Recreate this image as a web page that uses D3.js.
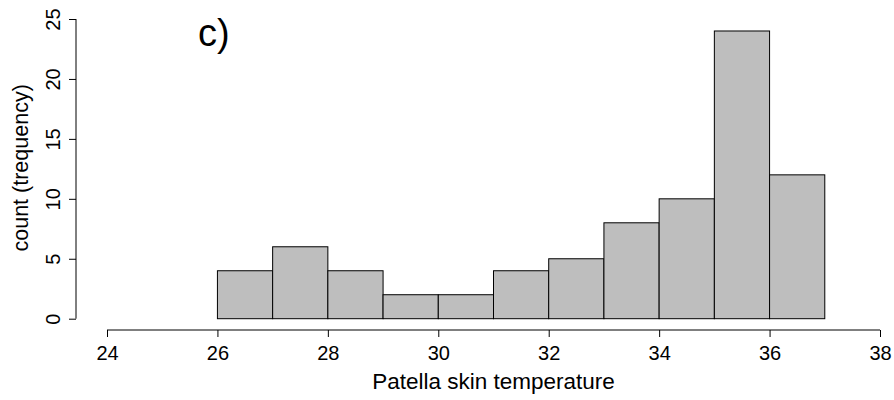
<!DOCTYPE html>
<html>
<head>
<meta charset="utf-8">
<script src="https://cdn.jsdelivr.net/npm/d3@7"></script>
<style>
  body { margin: 0; background: #fff; }
  text { font-family: "Liberation Sans", Arial, sans-serif; }
</style>
</head>
<body>
<svg id="chart"></svg>
<script>
// histogram bins (lower edge) and counts
const binStarts = [26, 27, 28, 29, 30, 31, 32, 33, 34, 35, 36];
const counts = [4, 6, 4, 2, 2, 4, 5, 8, 10, 24, 12];
const xTicks = [24, 26, 28, 30, 32, 34, 36, 38];
const yTicks = [0, 5, 10, 15, 20, 25];

const width = 894, height = 400;
const svg = d3.select('#chart').attr('width', width).attr('height', height);

const x = d3.scaleLinear().domain([24, 38]).range([107, 880]);
const y = d3.scaleLinear().domain([0, 25]).range([318.7, 19]);

const bins = binStarts.map((b, i) => ({ x0: b, x1: b + 1, n: counts[i] }));

svg.selectAll('.bar')
    .data(bins)
    .enter().append('rect')
    .attr('class', 'bar')
    .attr('x', d => x(d.x0))
    .attr('y', d => y(d.n))
    .attr('width', d => x(d.x1) - x(d.x0))
    .attr('height', d => y(0) - y(d.n))
    .attr('fill', '#bebebe')
    .attr('stroke', '#000')
    .attr('stroke-width', 1);

// x axis, R style (detached below the plot)
const xAxis = svg.append('g')
    .attr('transform', 'translate(0,330)')
    .call(d3.axisBottom(x).tickValues(xTicks).tickSize(7).tickPadding(9).tickSizeOuter(0));
xAxis.select('.domain').attr('d', `M${x(24)},0H${x(38)}`);
xAxis.selectAll('text').attr('font-size', 20).attr('fill', '#000')
    .attr('font-family', 'Liberation Sans, Arial, sans-serif');

// y axis with rotated labels
const yAxis = svg.append('g')
    .attr('transform', 'translate(76,0)')
    .call(d3.axisLeft(y).tickValues(yTicks).tickSize(7).tickSizeOuter(0));
yAxis.select('.domain').attr('d', `M0,${y(0)}V${y(25)}`);
yAxis.selectAll('.tick text')
    .attr('font-size', 20).attr('fill', '#000')
    .attr('font-family', 'Liberation Sans, Arial, sans-serif')
    .attr('x', null)
    .attr('text-anchor', 'middle')
    .attr('transform', 'translate(-23.5,0) rotate(-90)')
    .attr('dy', '0.35em');

svg.selectAll('.domain, .tick line').attr('stroke', '#000');

svg.append('text')
    .attr('x', (x(24) + x(38)) / 2)
    .attr('y', 389)
    .attr('text-anchor', 'middle')
    .attr('font-size', 22.5)
    .text('Patella skin temperature');

svg.append('text')
    .attr('transform', `translate(28,${y(12.5) - 1}) rotate(-90)`)
    .attr('text-anchor', 'middle')
    .attr('font-size', 21.5)
    .text('count (trequency)');

svg.append('text')
    .attr('x', 198)
    .attr('y', 46)
    .attr('font-size', 38)
    .text('c)');
</script>
</body>
</html>
